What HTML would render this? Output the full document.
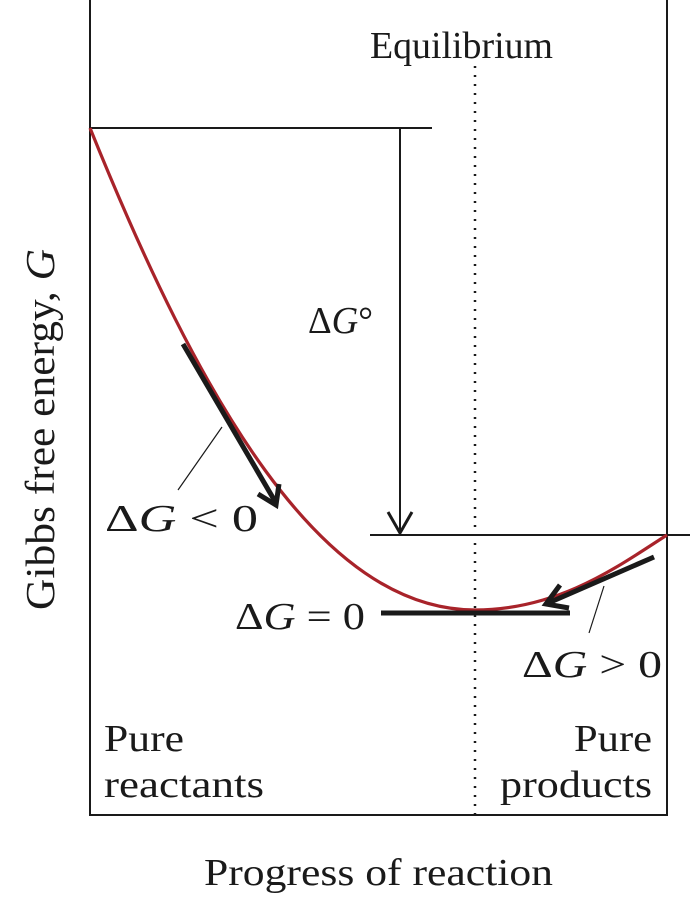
<!DOCTYPE html>
<html><head><style>
html,body{margin:0;padding:0;background:#fff;}
svg{display:block;}
text{font-family:"Liberation Serif",serif;font-size:38px;fill:#1a1a1a;}
</style></head><body>
<svg width="697" height="900" viewBox="0 0 697 900">
<g stroke="#1a1a1a" fill="none">
<line x1="90" y1="0" x2="90" y2="816" stroke-width="2"/>
<line x1="667" y1="0" x2="667" y2="816" stroke-width="2"/>
<line x1="89" y1="815" x2="668" y2="815" stroke-width="2"/>
<line x1="90" y1="128" x2="432" y2="128" stroke-width="2"/>
<line x1="370" y1="535" x2="690" y2="535" stroke-width="2"/>
<line x1="400" y1="128" x2="400" y2="533" stroke-width="2"/>
<polyline points="388,512 400,533 412,512" stroke-width="3"/>
<line x1="475" y1="66" x2="475" y2="815" stroke-width="2.5" stroke-dasharray="2,7"/>
<line x1="222" y1="427" x2="178" y2="490" stroke-width="1.2"/>
<line x1="604" y1="586" x2="589" y2="633" stroke-width="1.2"/>
</g>
<path d="M90,128 C200,400 320,610 475,610 C560,610 620,565 667,535" stroke="#a8232a" stroke-width="3.2" fill="none"/>
<g stroke="#1a1a1a" fill="none" stroke-width="5">
<line x1="183" y1="344" x2="276" y2="503"/>
<polyline points="258,494 276,505 279,484"/>
<line x1="654" y1="557" x2="546" y2="604"/>
<polyline points="560,585 546,604 569,608"/>
<line x1="381" y1="613" x2="570" y2="613"/>
</g>
<text x="370" y="58" textLength="183" lengthAdjust="spacingAndGlyphs">Equilibrium</text>
<text x="308" y="333" textLength="65" lengthAdjust="spacingAndGlyphs">Δ<tspan font-style="italic">G</tspan>°</text>
<text x="105" y="531" textLength="153" lengthAdjust="spacingAndGlyphs">Δ<tspan font-style="italic">G</tspan> &lt; 0</text>
<text x="235" y="629" textLength="130" lengthAdjust="spacingAndGlyphs">Δ<tspan font-style="italic">G</tspan> = 0</text>
<text x="522" y="677" textLength="140" lengthAdjust="spacingAndGlyphs">Δ<tspan font-style="italic">G</tspan> &gt; 0</text>
<text x="104" y="751" textLength="80" lengthAdjust="spacingAndGlyphs">Pure</text>
<text x="104" y="797" textLength="160" lengthAdjust="spacingAndGlyphs">reactants</text>
<text x="574" y="751" textLength="78" lengthAdjust="spacingAndGlyphs">Pure</text>
<text x="500" y="797" textLength="152" lengthAdjust="spacingAndGlyphs">products</text>
<text x="204" y="885" textLength="349" lengthAdjust="spacingAndGlyphs">Progress of reaction</text>
<text transform="translate(54,610) rotate(-90)" style="font-size:41px" textLength="361" lengthAdjust="spacingAndGlyphs">Gibbs free energy, <tspan font-style="italic">G</tspan></text>
</svg>
</body></html>
